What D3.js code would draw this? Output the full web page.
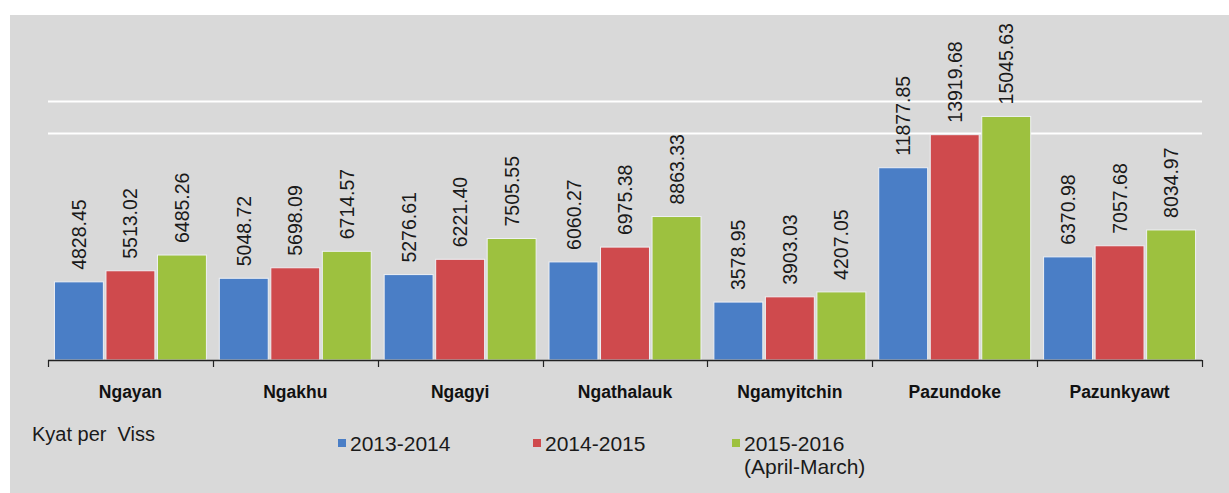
<!DOCTYPE html>
<html>
<head>
<meta charset="utf-8">
<script src="https://cdn.jsdelivr.net/npm/d3@7"></script>
<style>
  html, body { margin: 0; padding: 0; background: #ffffff; }
  svg { display: block; font-family: "Liberation Sans", Arial, sans-serif; }
  .unit { white-space: pre; }
</style>
</head>
<body>
<svg id="chart" width="1229" height="493"></svg>
<script>
// Fish price per viss, by species and fiscal year
const categories = ["Ngayan", "Ngakhu", "Ngagyi", "Ngathalauk", "Ngamyitchin", "Pazundoke", "Pazunkyawt"];
const seriesNames = ["2013-2014", "2014-2015", "2015-2016"];
const values2013 = [4828.45, 5048.72, 5276.61, 6060.27, 3578.95, 11877.85, 6370.98];
const values2014 = [5513.02, 5698.09, 6221.40, 6975.38, 3903.03, 13919.68, 7057.68];
const values2015 = [6485.26, 6714.57, 7505.55, 8863.33, 4207.05, 15045.63, 8034.97];
const gridTicks = [14000, 16000];
const unitLabel = "Kyat per  Viss";
const legendLabels = [["2013-2014"], ["2014-2015"], ["2015-2016", "(April-March)"]];
const colors = ["#4a7ec6", "#cf4a4d", "#9dc13f"];

const seriesValues = [values2013, values2014, values2015];

const svg = d3.select("#chart");

// panel background
svg.append("rect")
  .attr("x", 10).attr("y", 15)
  .attr("width", 1219).attr("height", 478)
  .attr("fill", "#d9d9d9");

const x0 = d3.scaleBand().domain(categories).range([48, 1202]).padding(0);
const x1 = d3.scaleBand().domain(seriesNames).range([0, x0.bandwidth()])
  .paddingInner(0.05).paddingOuter(0.125);
const y = d3.scaleLinear().domain([0, 16000]).range([360, 101]);

// gridlines
svg.append("g").selectAll("line")
  .data(gridTicks).join("line")
  .attr("x1", 48).attr("x2", 1202)
  .attr("y1", d => Math.round(y(d)) + 0.5)
  .attr("y2", d => Math.round(y(d)) + 0.5)
  .attr("stroke", "#ffffff").attr("stroke-width", 2);

// bars
const groups = svg.append("g").selectAll("g")
  .data(categories).join("g")
  .attr("transform", d => `translate(${x0(d)},0)`);

const fmt = d3.format(".2f");

groups.each(function(cat, ci) {
  const g = d3.select(this);
  const rows = seriesNames.map((s, si) => ({ s, si, v: seriesValues[si][ci] }));
  g.selectAll("rect").data(rows).join("rect")
    .attr("x", d => x1(d.s))
    .attr("y", d => y(d.v))
    .attr("width", x1.bandwidth())
    .attr("height", d => y(0) - y(d.v))
    .attr("fill", d => colors[d.si])
    .attr("stroke", "#eef0f4")
    .attr("stroke-width", 1);

  g.selectAll("text").data(rows).join("text")
    .attr("transform", d => `translate(${x1(d.s) + x1.bandwidth() / 2},${y(d.v) - 12}) rotate(-90)`)
    .attr("text-anchor", "start")
    .attr("dy", "0.36em")
    .attr("font-size", 19.5)
    .attr("fill", "#1a1a1a")
    .text(d => fmt(d.v));
});

// category axis
const axisG = svg.append("g").attr("transform", "translate(0,360)");
axisG.append("line")
  .attr("x1", 48).attr("x2", 1202).attr("y1", 0.5).attr("y2", 0.5)
  .attr("stroke", "#222").attr("stroke-width", 1.5);
const boundaries = categories.map(c => x0(c)).concat([x0(categories[categories.length - 1]) + x0.bandwidth()]);
axisG.selectAll("line.tick").data(boundaries).join("line")
  .attr("class", "tick")
  .attr("x1", d => Math.round(d) + 0.5).attr("x2", d => Math.round(d) + 0.5)
  .attr("y1", 0).attr("y2", 7)
  .attr("stroke", "#222").attr("stroke-width", 1.2);
axisG.selectAll("text.cat").data(categories).join("text")
  .attr("class", "cat")
  .attr("x", d => x0(d) + x0.bandwidth() / 2)
  .attr("y", 38)
  .attr("text-anchor", "middle")
  .attr("font-size", 17.5)
  .attr("font-weight", "bold")
  .attr("fill", "#111")
  .text(d => d);

// unit label
svg.append("text")
  .attr("class", "unit")
  .attr("x", 32).attr("y", 441)
  .attr("font-size", 20)
  .attr("fill", "#1a1a1a")
  .text(unitLabel);

// legend
const legendX = [338, 533, 732];
const legend = svg.append("g").selectAll("g")
  .data(legendLabels).join("g")
  .attr("transform", (d, i) => `translate(${legendX[i]},0)`);
legend.append("rect")
  .attr("x", 0).attr("y", 439)
  .attr("width", 8).attr("height", 8)
  .attr("fill", (d, i) => colors[i]);
legend.append("text")
  .attr("x", 12).attr("y", 451)
  .attr("font-size", 21)
  .attr("fill", "#1a1a1a")
  .selectAll("tspan").data(d => d).join("tspan")
  .attr("x", 12)
  .attr("dy", (d, i) => i === 0 ? 0 : 23)
  .text(d => d);
</script>
</body>
</html>
